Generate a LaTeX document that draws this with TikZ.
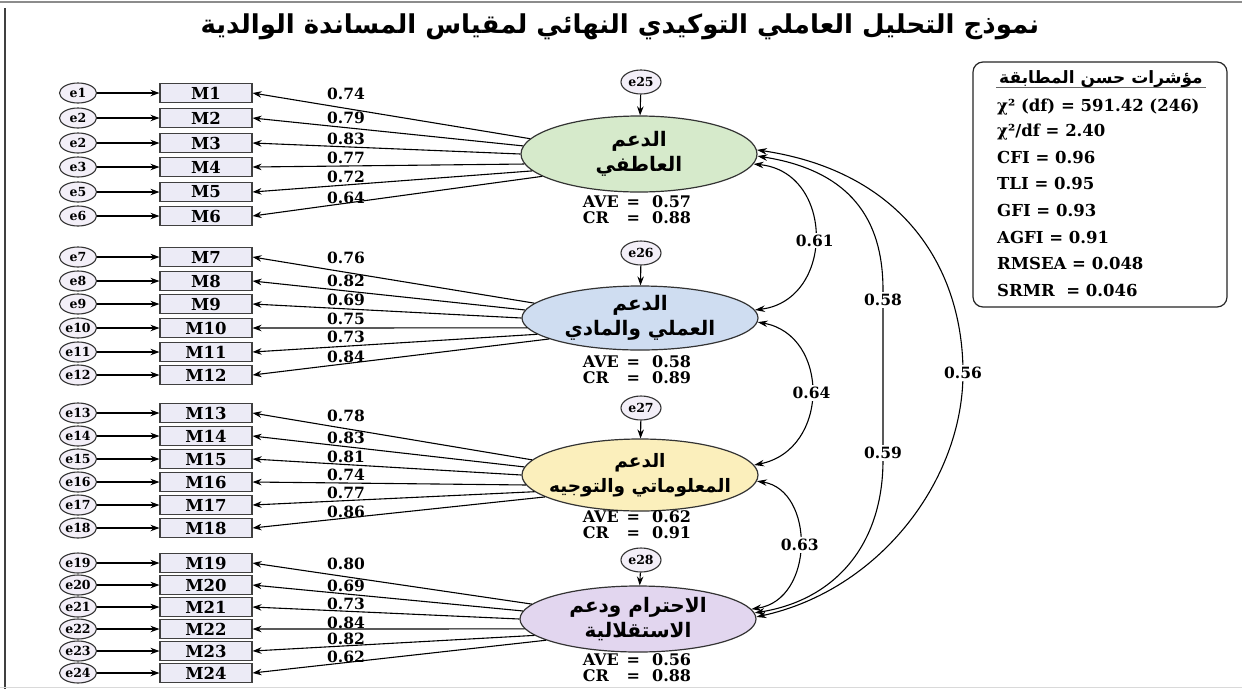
\documentclass[tikz,border=0pt]{standalone}
\usepackage{fontspec}
\setmainfont{DejaVu Serif}
\newfontfamily\arabicfont[Script=Arabic]{DejaVu Sans}
\TeXXeTstate=1
\usetikzlibrary{arrows.meta,shapes.geometric}
\definecolor{fgreen}{HTML}{D6EACB}
\definecolor{fblue}{HTML}{CFDDF1}
\definecolor{fyellow}{HTML}{FBEFBC}
\definecolor{fpurple}{HTML}{E2D6EF}
\definecolor{boxfill}{HTML}{ECEBF6}
\definecolor{errfill}{HTML}{F3EFF8}
\begin{document}
\begin{tikzpicture}[x=1pt,y=-1pt,
  obs/.style={draw=black!75, line width=1.1pt, fill=boxfill, minimum width=92pt, minimum height=19.5pt, inner sep=0pt, font=\bfseries\fontsize{16.5}{16.5}\selectfont},
  err/.style={ellipse, draw=black!80, line width=1.1pt, fill=errfill, minimum width=37pt, minimum height=20pt, inner sep=0pt, font=\bfseries\fontsize{12.5}{12.5}\selectfont},
  lat/.style={ellipse, draw=black!80, line width=1.2pt, minimum width=236pt, inner sep=0pt},
  lattxt/.style={align=center, inner sep=0pt, font=\arabicfont\bfseries\fontsize{20}{25}\selectfont},
  lbl/.style={font=\bfseries\fontsize{15.5}{15.5}\selectfont, inner sep=1pt},
  clbl/.style={font=\bfseries\fontsize{15.5}{15.5}\selectfont, inner sep=2pt, fill=white},
  arr/.style={-{Stealth[length=9pt,width=6.5pt]}, line width=1.1pt},
  cov/.style={{Stealth[length=10pt,width=6.5pt]}-{Stealth[length=10pt,width=6.5pt]}, line width=1.1pt},
  stat/.style={font=\bfseries\fontsize{16}{15}\selectfont, inner sep=0pt},
  fitline/.style={anchor=west, font=\bfseries\fontsize{16.5}{17}\selectfont, inner sep=0pt}
]
\useasboundingbox (0,0) rectangle (1242,689);
\fill[white] (0,0) rectangle (1242,689);
% frame
\draw[black!45, line width=1.5pt] (0,2) -- (1242,2);
\draw[black!75, line width=1.2pt] (5,8) -- (5,689);
\draw[black!15, line width=1.2pt] (0,687.5) -- (1242,687.5);

% title
\node (title) at (620,27) {\arabicfont\bfseries\fontsize{26}{26}\selectfont\beginR نموذج التحليل العاملي التوكيدي النهائي لمقياس المساندة الوالدية\endR};

% latent factors
\node[lat, fill=fgreen, minimum height=76pt] (F1) at (639,154) {};
\node[lat, fill=fblue, minimum height=64pt] (F2) at (640,318) {};
\node[lat, fill=fyellow, minimum height=72pt] (F3) at (640,475) {};
\node[lat, fill=fpurple, minimum height=66pt] (F4) at (638,619) {};
\node[lattxt] (T1) at (F1) {\beginR الدعم\endR\\\beginR العاطفي\endR};
\node[lattxt] (T2) at (F2) {\beginR الدعم\endR\\\beginR العملي والمادي\endR};
\node[lattxt, font=\arabicfont\bfseries\fontsize{18.5}{25}\selectfont] (T3) at (F3) {\beginR الدعم\endR\\\beginR المعلوماتي والتوجيه\endR};
\node[lattxt] (T4) at (F4) {\beginR الاحترام ودعم\endR\\\beginR الاستقلالية\endR};

% disturbance terms
\node[err, minimum width=40pt, minimum height=24pt] (d1) at (641,82) {e25};
\node[err, minimum width=40pt, minimum height=24pt] (d2) at (641,253) {e26};
\node[err, minimum width=40pt, minimum height=24pt] (d3) at (641,408) {e27};
\node[err, minimum width=40pt, minimum height=24pt] (d4) at (641,560) {e28};
\foreach \n in {1,2,3,4} \draw[arr] (d\n) -- (F\n);

% AVE / CR
\node[stat] (A1) at (637,212) {\begin{tabular}{@{}l@{\hspace{8pt}}c@{\hspace{12pt}}l@{}}AVE & = & 0.57\\CR & = & 0.88\end{tabular}};
\node[stat] (A2) at (637,372) {\begin{tabular}{@{}l@{\hspace{8pt}}c@{\hspace{12pt}}l@{}}AVE & = & 0.58\\CR & = & 0.89\end{tabular}};
\node[stat] (A3) at (637,527) {\begin{tabular}{@{}l@{\hspace{8pt}}c@{\hspace{12pt}}l@{}}AVE & = & 0.62\\CR & = & 0.91\end{tabular}};
\node[stat] (A4) at (637,670) {\begin{tabular}{@{}l@{\hspace{8pt}}c@{\hspace{12pt}}l@{}}AVE & = & 0.56\\CR & = & 0.88\end{tabular}};

% indicators
\foreach \i/\y/\e/\v/\ly/\f [count=\k from 0] in {
  1/93/e1/0.74/94/1, 2/118/e2/0.79/118/1, 3/143/e2/0.83/139/1, 4/167/e3/0.77/158/1, 5/192/e5/0.72/177/1, 6/216/e6/0.64/198/1,
  7/257/e7/0.76/258/2, 8/281/e8/0.82/281/2, 9/304/e9/0.69/300/2, 10/328/e10/0.75/319/2, 11/352/e11/0.73/337/2, 12/375/e12/0.84/357/2,
  13/413/e13/0.78/416/3, 14/436/e14/0.83/438/3, 15/459/e15/0.81/457/3, 16/482/e16/0.74/475/3, 17/505/e17/0.77/493/3, 18/528/e18/0.86/512/3,
  19/563/e19/0.80/564/4, 20/585/e20/0.69/586/4, 21/607/e21/0.73/604/4, 22/629/e22/0.84/623/4, 23/651/e23/0.82/639/4, 24/673/e24/0.62/657/4}{
  \pgfmathtruncatemacro\j{mod(\k,6)}
  \pgfmathtruncatemacro\ang{172+4.4*\j}
  \node[obs] (M\i) at (206,\y) {M\i};
  \node[err] (err\i) at (78,\y) {\e};
  \draw[arr] (err\i) -- (M\i);
  \draw[arr] (F\f.\ang) -- (M\i.east);
  \node[lbl] (L\i) at (346,\ly) {\v};
}

% covariances
\draw[cov] (F1.-5) .. controls (835,172) and (835,300) .. node[clbl, pos=0.52] (c12) {0.61} (F2.4);
\draw[cov] (F2.-2) .. controls (830,335) and (830,450) .. node[clbl, pos=0.5] (c23) {0.64} (F3.5);
\draw[cov] (F3.-3) .. controls (815,490) and (815,600) .. node[clbl, pos=0.5] (c34) {0.63} (F4.5);
\coordinate (k1) at (883,290);
\coordinate (k2) at (883,460);
\draw[cov] (F1.-1) .. controls (860,172) and (883,230) .. (k1) -- node[clbl, pos=0.06] (c13) {0.58} node[clbl, pos=0.96] (c24) {0.59} (k2) .. controls (883,545) and (835,600) .. (F4.3);
\coordinate (k3) at (963,373);
\draw[cov] (F1.2) .. controls (905,172) and (963,270) .. (k3) .. controls (963,480) and (880,590) .. (F4.1);
\node[clbl] (c14) at (k3) {0.56};

% fit indices box
\node[draw=black!85, rounded corners=10pt, line width=1.2pt, minimum width=254pt, minimum height=245pt, inner sep=0pt] (fitbox) at (1100,184.5) {};
\node (fittitle) at (1101,79) {\arabicfont\bfseries\fontsize{17}{17}\selectfont\beginR مؤشرات حسن المطابقة\endR};
\draw[black!60, line width=0.9pt] ([xshift=24pt,yshift=-26.5pt]fitbox.north west) -- ([xshift=-22pt,yshift=-26.5pt]fitbox.north east);
\node[fitline] (s1) at (997,107) {χ² (df) = 591.42 (246)};
\node[fitline] (s2) at (997,132) {χ²/df = 2.40};
\node[fitline] (s3) at (997,157) {CFI = 0.96};
\node[fitline] (s4) at (997,183) {TLI = 0.95};
\node[fitline] (s5) at (997,210) {GFI = 0.93};
\node[fitline] (s6) at (997,237) {AGFI = 0.91};
\node[fitline] (s7) at (997,263) {RMSEA = 0.048};
\node[fitline] (s8) at (997,290) {SRMR \ = 0.046};
\end{tikzpicture}
\end{document}
